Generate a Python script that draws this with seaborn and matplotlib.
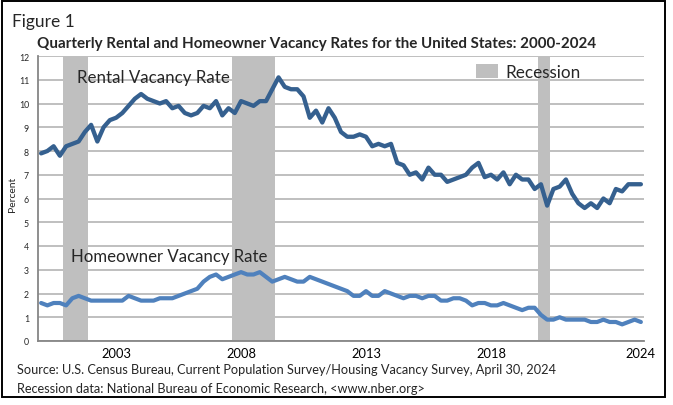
import numpy as np
import pandas as pd
import matplotlib
matplotlib.use("Agg")
import matplotlib.pyplot as plt
import seaborn as sns
from matplotlib.patches import Patch, Rectangle

# ---------------- data ----------------
quarters = pd.period_range("2000Q1", "2024Q1", freq="Q")

rental = [
    7.9, 8.0, 8.2, 7.8,     # 2000
    8.2, 8.3, 8.4, 8.8,     # 2001
    9.1, 8.4, 9.0, 9.3,     # 2002
    9.4, 9.6, 9.9, 10.2,    # 2003
    10.4, 10.2, 10.1, 10.0, # 2004
    10.1, 9.8, 9.9, 9.6,    # 2005
    9.5, 9.6, 9.9, 9.8,     # 2006
    10.1, 9.5, 9.8, 9.6,    # 2007
    10.1, 10.0, 9.9, 10.1,  # 2008
    10.1, 10.6, 11.1, 10.7, # 2009
    10.6, 10.6, 10.3, 9.4,  # 2010
    9.7, 9.2, 9.8, 9.4,     # 2011
    8.8, 8.6, 8.6, 8.7,     # 2012
    8.6, 8.2, 8.3, 8.2,     # 2013
    8.3, 7.5, 7.4, 7.0,     # 2014
    7.1, 6.8, 7.3, 7.0,     # 2015
    7.0, 6.7, 6.8, 6.9,     # 2016
    7.0, 7.3, 7.5, 6.9,     # 2017
    7.0, 6.8, 7.1, 6.6,     # 2018
    7.0, 6.8, 6.8, 6.4,     # 2019
    6.6, 5.7, 6.4, 6.5,     # 2020
    6.8, 6.2, 5.8, 5.6,     # 2021
    5.8, 5.6, 6.0, 5.8,     # 2022
    6.4, 6.3, 6.6, 6.6,     # 2023
    6.6,                    # 2024
]

homeowner = [
    1.6, 1.5, 1.6, 1.6,     # 2000
    1.5, 1.8, 1.9, 1.8,     # 2001
    1.7, 1.7, 1.7, 1.7,     # 2002
    1.7, 1.7, 1.9, 1.8,     # 2003
    1.7, 1.7, 1.7, 1.8,     # 2004
    1.8, 1.8, 1.9, 2.0,     # 2005
    2.1, 2.2, 2.5, 2.7,     # 2006
    2.8, 2.6, 2.7, 2.8,     # 2007
    2.9, 2.8, 2.8, 2.9,     # 2008
    2.7, 2.5, 2.6, 2.7,     # 2009
    2.6, 2.5, 2.5, 2.7,     # 2010
    2.6, 2.5, 2.4, 2.3,     # 2011
    2.2, 2.1, 1.9, 1.9,     # 2012
    2.1, 1.9, 1.9, 2.1,     # 2013
    2.0, 1.9, 1.8, 1.9,     # 2014
    1.9, 1.8, 1.9, 1.9,     # 2015
    1.7, 1.7, 1.8, 1.8,     # 2016
    1.7, 1.5, 1.6, 1.6,     # 2017
    1.5, 1.5, 1.6, 1.5,     # 2018
    1.4, 1.3, 1.4, 1.4,     # 2019
    1.1, 0.9, 0.9, 1.0,     # 2020
    0.9, 0.9, 0.9, 0.9,     # 2021
    0.8, 0.8, 0.9, 0.8,     # 2022
    0.8, 0.7, 0.8, 0.9,     # 2023
    0.8,                    # 2024
]

recession_quarters = ["2001Q1", "2001Q2", "2001Q3", "2001Q4",
                      "2007Q4", "2008Q1", "2008Q2", "2008Q3", "2008Q4",
                      "2009Q1", "2009Q2",
                      "2020Q1", "2020Q2"]
recession_height = 12

tick_quarters = ["2003Q1", "2008Q1", "2013Q1", "2018Q1", "2024Q1"]
tick_labels = ["2003", "2008", "2013", "2018", "2024"]

title = "Quarterly Rental and Homeowner Vacancy Rates for the United States: 2000-2024"
source1 = "Source: U.S. Census Bureau, Current Population Survey/Housing Vacancy Survey, April 30, 2024"
source2 = "Recession data: National Bureau of Economic Research, <www.nber.org>"

# ---------------- helpers ----------------
def qmid(p):
    p = pd.Period(p, freq="Q")
    return p.year + (p.quarter - 1) / 4 + 0.125

df = pd.DataFrame({
    "t": [qmid(q) for q in quarters],
    "Rental": rental,
    "Homeowner": homeowner,
})

# ---------------- style ----------------
sns.set_style("white")
plt.rcParams["font.family"] = ["Lato", "DejaVu Sans"]

W, H = 673, 406
fig = plt.figure(figsize=(W / 100, H / 100), dpi=100)

def fx(px):
    return px / W

def fy(py):
    return 1 - py / H

ax = fig.add_axes([fx(38), fy(342), fx(644) - fx(38), fy(57) - fy(342)])

GRID = "#bfbfbf"
AXC = "#868686"
RENT_C = "#35608f"
HOME_C = "#4f81bd"
REC_C = "#bfbfbf"

ax.set_axisbelow(True)
ax.yaxis.grid(True, color=GRID, lw=1.4)
ax.xaxis.grid(False)

# recession bars
ax.bar([qmid(q) for q in recession_quarters], recession_height, width=0.25,
       color=REC_C, linewidth=0, zorder=1)

sns.lineplot(data=df, x="t", y="Rental", color=RENT_C, lw=3.1, ax=ax,
             solid_capstyle="round", solid_joinstyle="round", zorder=3)
sns.lineplot(data=df, x="t", y="Homeowner", color=HOME_C, lw=3.0, ax=ax,
             solid_capstyle="round", solid_joinstyle="round", zorder=3)

ax.set_xlim(2000, 2024.25)
ax.set_ylim(0, 12)
ax.set_yticks(range(0, 13))
ax.set_xticks([qmid(q) for q in tick_quarters])
ax.set_xticklabels(tick_labels)
ax.set_xlabel("")
ax.set_ylabel("")

for s in ["top", "right"]:
    ax.spines[s].set_visible(False)
for s in ["left", "bottom"]:
    ax.spines[s].set_color(AXC)
    ax.spines[s].set_linewidth(1.3)

ax.tick_params(axis="y", length=2.5, width=1.0, color=AXC, pad=4,
               labelsize=6.3, labelcolor="#262626")
ax.tick_params(axis="x", length=0, pad=4, labelsize=9.3, labelcolor="black")

# legend
leg = ax.legend(handles=[Patch(facecolor=REC_C, edgecolor="none")],
                labels=["Recession"], frameon=False, fontsize=12.3,
                loc="upper left", bbox_to_anchor=(fx(476), fy(65)),
                bbox_transform=fig.transFigure, borderpad=0,
                borderaxespad=0, handlelength=1.29, handleheight=0.9,
                handletextpad=0.45)

# series labels
fig.text(fx(76.7), fy(83.3), "Rental Vacancy Rate", fontsize=12.2,
         va="baseline", ha="left")
fig.text(fx(71), fy(261.7), "Homeowner Vacancy Rate", fontsize=12.1,
         va="baseline", ha="left")

# y label
fig.text(fx(12), fy(194), "Percent", rotation=90, fontsize=7.5,
         va="center", ha="center")

# titles
fig.text(fx(12), fy(27), "Figure 1", fontsize=12.5, va="baseline", ha="left")
fig.text(fx(37), fy(48), title, fontsize=10.9, fontweight="bold",
         va="baseline", ha="left")

# source
fig.text(fx(17), fy(374), source1, fontsize=9.15, va="baseline", ha="left")
fig.text(fx(17), fy(393), source2, fontsize=9.15, va="baseline", ha="left")

# frame
fig.patches.append(Rectangle((fx(1.5), fy(398)), fx(665) - fx(1.5),
                             fy(1.5) - fy(398), transform=fig.transFigure,
                             fill=False, edgecolor="black", lw=1.4))

fig.savefig("out.png", dpi=100)
